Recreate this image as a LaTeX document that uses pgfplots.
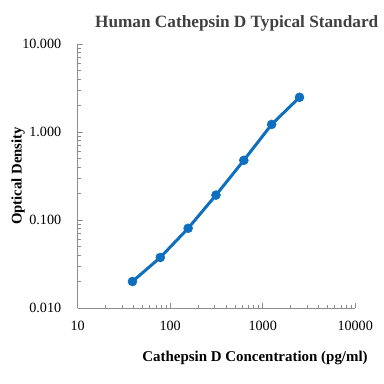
\documentclass[border=0pt]{standalone}
\usepackage{fontspec}
\setmainfont{Liberation Serif}
\usepackage{pgfplots}
\pgfplotsset{compat=1.18}
\definecolor{lineblue}{HTML}{0F6FBF}
\definecolor{axgray}{HTML}{8C8C8C}
\definecolor{titlegray}{HTML}{404040}
\begin{document}
\begin{tikzpicture}
\useasboundingbox (0,0) rectangle (384bp,384bp);
\begin{axis}[
  at={(77.7bp,76bp)}, anchor=south west,
  scale only axis, width=277.5bp, height=264bp,
  xmode=log, ymode=log,
  xmin=10, xmax=10000, ymin=0.01, ymax=10,
  axis lines*=left,
  axis line style={axgray, line width=0.8bp},
  tick style={axgray, line width=0.6bp},
  tick align=inside,
  major tick length=5bp, minor tick length=3.5bp,
  xtick={10,100,1000,10000},
  xticklabels={10,100,1000,10000},
  ytick={0.01,0.1,1,10},
  yticklabels={0.010,0.100,1.000,10.000},
  ticklabel style={font=\fontsize{14.2}{17}\selectfont, text=black},
  xticklabel style={yshift=-10bp},
  yticklabel style={xshift=-13bp},
  title={Human Cathepsin D Typical Standard},
  title style={font=\fontsize{17.3}{20}\selectfont\bfseries, text=titlegray,
    at={(rel axis cs:0.573,1.057)}, anchor=center},
  xlabel={Cathepsin D Concentration (pg/ml)},
  xlabel style={font=\fontsize{15}{18}\selectfont\bfseries, text=black,
    at={(rel axis cs:0.639,-0.19)}, anchor=center},
  ylabel={Optical Density},
  ylabel style={font=\fontsize{14.8}{17}\selectfont\bfseries, text=black,
    at={(rel axis cs:-0.215,0.5)}, anchor=center},
  clip=false,
]
\addplot[lineblue, line width=3bp, mark=*, mark size=4.5bp,
  mark options={fill=lineblue, draw=lineblue, line width=0.5bp}] coordinates {
  (39.0625,0.0200) (78.125,0.0375) (156.25,0.0805) (312.5,0.192)
  (625,0.477) (1250,1.22) (2500,2.48)
};
\end{axis}
\end{tikzpicture}
\end{document}
